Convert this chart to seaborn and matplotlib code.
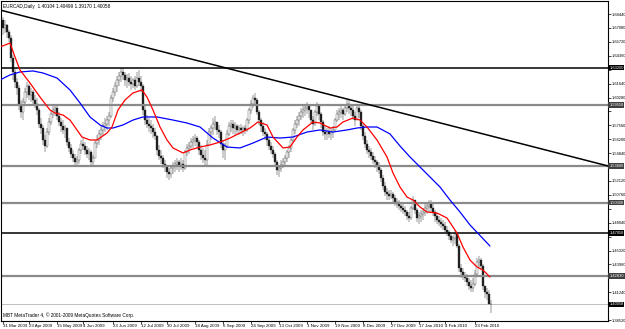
import numpy as np
import pandas as pd
import matplotlib
matplotlib.use("Agg")
import matplotlib.pyplot as plt
import seaborn as sns
from matplotlib.transforms import blended_transform_factory

# ---------------- data (prices in pips, i.e. price * 10000) ----------------
first_open_pips = 16790
high_pips = [
    16816,16786,16747,16689,16640,16444,16317,16219,16151,16004,
    16024,16121,16180,16161,16121,16102,16053,16024,15926,15828,
    15760,15662,15730,15828,15906,15955,15965,15945,15887,15828,
    15808,15760,15730,15632,15574,15515,15476,15456,15535,15613,
    15632,15593,15554,15535,15515,15466,15613,15662,15711,15750,
    15789,15828,15848,15887,16053,16121,16180,16239,16278,16317,
    16317,16278,16258,16268,16239,16219,16239,16278,16297,16239,
    16161,15955,15857,15828,15808,15769,15730,15662,15564,15515,
    15466,15417,15368,15339,15368,15398,15417,15437,15417,15437,
    15417,15515,15574,15593,15632,15652,15672,15652,15613,15564,
    15535,15515,15613,15730,15760,15828,15848,15789,15760,15711,
    15613,15583,15711,15789,15808,15808,15789,15769,15760,15769,
    15750,15760,15828,15926,16004,16053,16073,16024,15906,15828,
    15789,15730,15691,15632,15593,15554,15496,15417,15368,15417,
    15437,15466,15515,15564,15632,15730,15808,15848,15887,15926,
    15945,15965,15984,15955,15906,15848,15906,15984,15965,15887,
    15808,15750,15730,15750,15730,15750,15828,15906,15926,15945,
    15926,15965,16004,16004,15965,15945,15887,15965,15955,15906,
    15769,15691,15613,15554,15535,15496,15456,15417,15398,15339,
    15270,15202,15143,15124,15124,15104,15075,15046,15026,15006,
    14987,14967,14928,14909,14967,15065,15026,14948,14909,14928,
    14948,14987,15006,15026,15026,14987,14928,14899,14870,14850,
    14830,14811,14772,14733,14703,14674,14733,14713,14596,14400,
    14361,14322,14302,14263,14244,14263,14341,14459,14478,14459,
    14400,14185,14165,14146,14050,
]
low_pips = [
    16640,16659,16610,16571,16376,16200,16121,16053,15906,15828,
    15808,15955,16024,16004,15984,15945,15926,15857,15730,15672,
    15564,15496,15535,15662,15760,15828,15848,15808,15750,15691,
    15672,15632,15554,15496,15437,15398,15359,15349,15378,15476,
    15515,15466,15437,15417,15368,15359,15437,15535,15564,15613,
    15652,15691,15711,15750,15828,15984,16043,16082,16141,16180,
    16200,16141,16121,16141,16102,16121,16102,16121,16141,16082,
    15857,15760,15730,15691,15672,15632,15613,15466,15417,15378,
    15339,15300,15241,15222,15241,15280,15300,15319,15300,15319,
    15300,15319,15456,15476,15515,15535,15554,15535,15466,15417,
    15388,15349,15359,15564,15613,15662,15711,15662,15632,15535,
    15437,15417,15535,15652,15691,15672,15652,15672,15662,15672,
    15652,15672,15691,15769,15867,15926,15945,15857,15760,15691,
    15652,15613,15554,15515,15476,15437,15359,15270,15251,15300,
    15339,15349,15398,15437,15496,15593,15672,15730,15750,15808,
    15828,15848,15867,15828,15769,15711,15750,15848,15808,15730,
    15652,15613,15613,15632,15613,15632,15691,15789,15808,15828,
    15808,15848,15887,15867,15848,15808,15750,15808,15828,15711,
    15613,15535,15476,15437,15417,15378,15339,15300,15280,15202,
    15124,15065,15026,15026,15036,15006,14967,14948,14928,14909,
    14889,14870,14830,14811,14830,14928,14889,14811,14791,14811,
    14830,14870,14889,14909,14909,14870,14811,14791,14772,14752,
    14733,14713,14674,14635,14606,14576,14596,14557,14322,14263,
    14244,14224,14185,14146,14126,14126,14185,14283,14361,14341,
    14146,14068,14048,14009,13917,
]
close_pips = [
    16708,16738,16669,16610,16415,16278,16180,16121,15955,15887,
    15984,16082,16141,16053,16082,16004,15965,15906,15769,15730,
    15613,15554,15691,15789,15867,15906,15926,15848,15789,15750,
    15711,15730,15593,15535,15476,15437,15398,15417,15515,15574,
    15554,15515,15476,15496,15398,15437,15583,15613,15672,15711,
    15750,15769,15808,15848,16024,16082,16141,16200,16239,16278,
    16249,16200,16219,16180,16161,16200,16141,16219,16180,16141,
    15906,15808,15769,15750,15730,15691,15652,15515,15456,15437,
    15378,15359,15300,15280,15339,15359,15378,15398,15359,15378,
    15339,15496,15535,15554,15593,15613,15632,15593,15515,15466,
    15437,15417,15564,15691,15730,15769,15789,15711,15691,15574,
    15515,15554,15672,15750,15769,15730,15750,15711,15730,15711,
    15730,15711,15808,15906,15965,16024,16004,15887,15808,15750,
    15691,15672,15613,15554,15515,15476,15398,15319,15339,15368,
    15398,15437,15496,15535,15613,15711,15769,15808,15848,15887,
    15906,15926,15945,15906,15808,15769,15887,15945,15867,15789,
    15691,15672,15691,15672,15691,15711,15808,15867,15887,15906,
    15867,15926,15965,15926,15906,15848,15808,15926,15887,15750,
    15652,15574,15515,15496,15456,15417,15398,15359,15319,15241,
    15163,15104,15085,15065,15085,15046,15006,14987,14967,14948,
    14928,14909,14870,14850,14948,15026,14928,14850,14870,14889,
    14909,14948,14967,14987,14948,14909,14870,14830,14811,14791,
    14772,14733,14713,14674,14635,14654,14694,14576,14361,14322,
    14283,14263,14224,14185,14165,14205,14302,14420,14439,14381,
    14185,14126,14107,14010,14006,
]

# moving averages: (bar index, price)
red_ma_idx = [-1.5,3.5,6,8.5,13.5,18.5,23.5,26,30,33.5,37,39.5,43.5,47,52,54.5,57.5,61,65,69.5,
              72,75,78.5,82,85,90,93.5,98.5,103.5,108.5,113.5,118.5,123.5,127.5,132,135,140,143.5,
              147,150,155,158.5,163.5,167,170,175,178.5,182,187,192,195,198.5,202,205,208.5,212,
              217,222,227,230,233.5,237,240,243.5]
red_ma_val = [1.6522,1.6561,1.6425,1.6297,1.6170,1.6033,1.5906,1.5877,1.5857,1.5808,1.5711,1.5642,
              1.5613,1.5613,1.5681,1.5740,1.5906,1.6004,1.6073,1.6102,1.6033,1.5906,1.5740,1.5613,
              1.5535,1.5486,1.5515,1.5544,1.5564,1.5593,1.5632,1.5681,1.5730,1.5789,1.5760,1.5642,
              1.5535,1.5544,1.5642,1.5711,1.5789,1.5779,1.5730,1.5740,1.5789,1.5828,1.5808,1.5740,
              1.5613,1.5447,1.5290,1.5153,1.5055,1.5026,1.4958,1.4909,1.4899,1.4850,1.4703,1.4566,
              1.4439,1.4371,1.4341,1.4273]
blue_ma_idx = [-1.5,3.5,8.5,15,20,27,33.5,38.5,43.5,48.5,52,55,60,65,70,77,85,92,98.5,105,112,118.5,
               125,132,138.5,145,152,158.5,165,172,177,182,187,193.5,198.5,203.5,208.5,213.5,218.5,
               223.5,228.5,233.5,243.5]
blue_ma_val = [1.6200,1.6249,1.6278,1.6288,1.6268,1.6219,1.6102,1.5975,1.5838,1.5760,1.5730,1.5730,
               1.5760,1.5808,1.5838,1.5838,1.5808,1.5779,1.5740,1.5632,1.5544,1.5535,1.5583,1.5642,
               1.5632,1.5642,1.5691,1.5711,1.5691,1.5711,1.5730,1.5740,1.5740,1.5672,1.5554,1.5447,
               1.5349,1.5251,1.5153,1.5026,1.4909,1.4782,1.4576]

hline_prices = [1.6320, 1.5955, 1.5360, 1.5000, 1.4705, 1.4283]
hline_kinds = ["black", "gray", "gray", "gray", "black", "gray"]
current_price = 1.40058
trend_idx = [-1.5, 302.5]
trend_val = [1.6884, 1.5359]

y_ticks = [round(1.3852 + 0.0136 * k, 4) for k in range(23)]
date_idx = [0, 13, 27, 40, 55, 69, 82, 96, 110, 124, 138, 152, 166, 180, 194, 208, 221, 236]
date_labels = ["31 Mar 2009", "23 Apr 2009", "15 May 2009", "4 Jun 2009", "23 Jun 2009",
               "12 Jul 2009", "30 Jul 2009", "18 Aug 2009", "6 Sep 2009", "24 Sep 2009",
               "13 Oct 2009", "1 Nov 2009", "19 Nov 2009", "8 Dec 2009", "27 Dec 2009",
               "17 Jan 2010", "4 Feb 2010", "23 Feb 2010"]
title_text = "EURCAD,Daily  1.40104 1.40499 1.39170 1.40058"
copyright_text = "MBT MetaTrader 4, \u00a9 2001-2009 MetaQuotes Software Corp."

# ---------------- figure ----------------
sns.set_style("white")
plt.rcParams["font.family"] = ["Liberation Sans", "DejaVu Sans"]

W, H = 625, 329
fig = plt.figure(figsize=(W / 100, H / 100), dpi=100)
ax = fig.add_axes([1 / W, (H - 321) / H, 607 / W, 320 / H])

high = np.array(high_pips) / 1e4
low = np.array(low_pips) / 1e4
close = np.array(close_pips) / 1e4
opn = np.concatenate([[first_open_pips / 1e4], close[:-1]])
idx = np.arange(len(close))

# horizontal levels
for p, k in zip(hline_prices, hline_kinds):
    if k == "black":
        ax.axhline(p, color="black", lw=1.1, zorder=2.5)
    else:
        ax.axhline(p, color="#8a8a8a", lw=1.6, zorder=2.5)
ax.axhline(current_price, color="#c0c0c0", lw=0.7, zorder=1.5)

# trend line
ax.plot(trend_idx, trend_val, color="black", lw=1.1, zorder=2.5)

# candles
ax.vlines(idx, low, high, color="#303030", lw=0.35, zorder=2)
up = close >= opn
bot = np.minimum(opn, close)
hgt = np.maximum(np.abs(close - opn), 0.00012)
ax.bar(idx[up], hgt[up], bottom=bot[up], width=0.65, color="white",
       edgecolor="#303030", linewidth=0.25, zorder=2.1)
ax.bar(idx[~up], hgt[~up], bottom=bot[~up], width=0.65, color="#202020",
       edgecolor="#202020", linewidth=0.25, zorder=2.1)

# moving averages
red_df = pd.DataFrame({"bar": red_ma_idx, "price": red_ma_val})
blue_df = pd.DataFrame({"bar": blue_ma_idx, "price": blue_ma_val})
sns.lineplot(data=blue_df, x="bar", y="price", ax=ax, color="#0000ff", lw=0.9,
             estimator=None, sort=False, zorder=3)
sns.lineplot(data=red_df, x="bar", y="price", ax=ax, color="#ff0000", lw=0.9,
             estimator=None, sort=False, zorder=3)

ax.set_xlim(-1, 302.5)
ax.set_ylim(1.3843, 1.6972)
ax.set_xlabel("")
ax.set_ylabel("")

# axes styling
for s in ax.spines.values():
    s.set_color("black")
    s.set_linewidth(0.8)
ax.yaxis.tick_right()
ax.set_yticks(y_ticks)
boxed = hline_prices + [current_price]
ax.set_yticklabels([f"{v:.5f}" for v in y_ticks])
ax.tick_params(axis="y", right=True, left=False, length=2, width=0.5, pad=0.8,
               labelsize=2.9, colors="black")
for v, lab in zip(y_ticks, ax.get_yticklabels()):
    if min(abs(v - b) for b in boxed) < 0.0068:
        lab.set_visible(False)
ax.set_xticks(date_idx)
ax.set_xticklabels(date_labels)
ax.tick_params(axis="x", bottom=True, length=2, width=0.5, pad=0.5,
               labelsize=3.2, colors="black")
for lab in ax.get_xticklabels():
    lab.set_horizontalalignment("left")

# boxed price labels on the right scale
tr = blended_transform_factory(ax.transAxes, ax.transData)
for p, k in zip(hline_prices, hline_kinds):
    ax.text(1.002, p, f"{p:.5f}", transform=tr, va="center", ha="left",
            fontsize=2.9, color="white", clip_on=False, zorder=5,
            bbox=dict(boxstyle="square,pad=0.2",
                      fc="black" if k == "black" else "#404040", ec="none"))
ax.text(1.002, current_price, f"{current_price:.5f}", transform=tr, va="center",
        ha="left", fontsize=2.9, color="white", clip_on=False, zorder=5,
        bbox=dict(boxstyle="square,pad=0.2", fc="black", ec="none"))

ax.text(0.004, 0.992, title_text, transform=ax.transAxes, va="top", ha="left",
        fontsize=3.4, color="black")
ax.text(0.004, 0.008, copyright_text, transform=ax.transAxes, va="bottom",
        ha="left", fontsize=3.4, color="black")

fig.savefig("out.png", dpi=100)
